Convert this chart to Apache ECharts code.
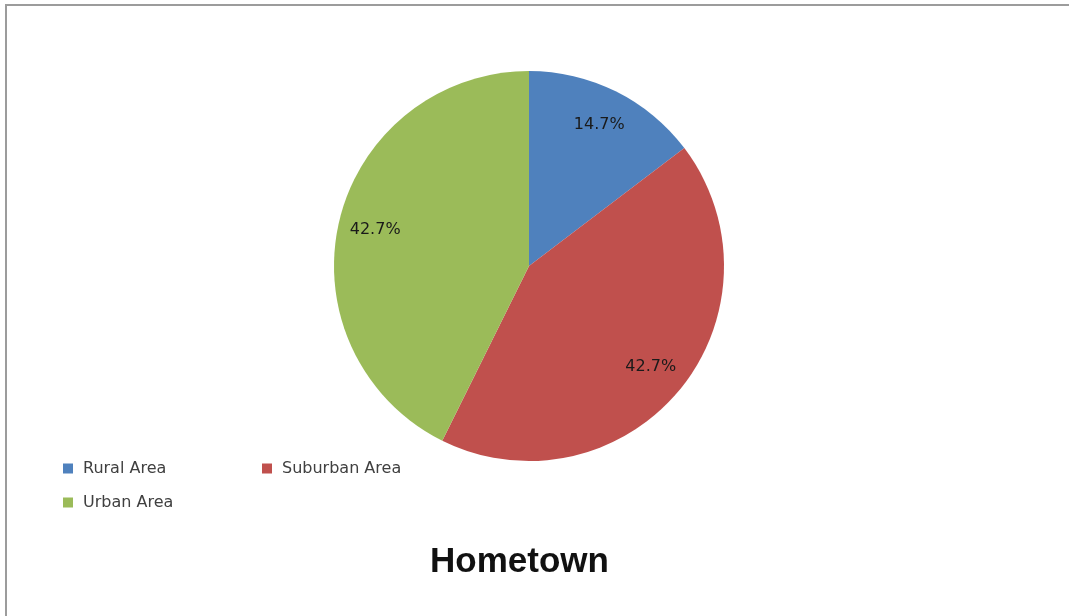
<!DOCTYPE html>
<html>
  <head>
    <meta charset="utf-8" />
    <script src="https://cdn.jsdelivr.net/npm/echarts/dist/echarts.min.js"></script>
  </head>
  <body style="margin: 0;">
    <div id="pie-chart" style="width: 1069px; height: 616px;"></div>
    <script>
        // Data (counts giving 14.7% / 42.7% / 42.7%)
        var categories = ['Rural Area', 'Suburban Area', 'Urban Area'];
        var counts = [11, 32, 32];

        // Excel 2007 palette
        var colorPalette = ['#4F81BD', '#C0504D', '#9BBB59'];

        var pieData = categories.map(function (name, i) {
            return { name: name, value: counts[i], itemStyle: { color: colorPalette[i] } };
        });

        var pieChart = echarts.init(document.getElementById('pie-chart'));

        var option = {
            backgroundColor: '#fff',
            animation: false,
            title: {
                text: 'Hometown',
                left: 425,
                top: 540,
                textStyle: {
                    fontFamily: 'Liberation Sans',
                    fontWeight: 'bold',
                    fontSize: 35,
                    color: '#111'
                }
            },
            legend: {
                data: categories,
                left: 63,
                top: 456,
                width: 440,
                padding: 0,
                orient: 'horizontal',
                itemWidth: 10,
                itemHeight: 10,
                itemGap: 9,
                icon: 'rect',
                textStyle: {
                    fontFamily: 'DejaVu Sans',
                    fontSize: 16,
                    color: '#404040',
                    width: 170,
                    lineHeight: 25,
                    padding: [0, 0, 0, 5]
                }
            },
            graphic: [{
                type: 'rect',
                shape: { x: 6, y: 5, width: 1200, height: 800 },
                style: { fill: 'none', stroke: '#9c9c9c', lineWidth: 2 },
                silent: true
            }],
            series: [{
                type: 'pie',
                center: [529, 266],
                radius: 195,
                startAngle: 90,
                clockwise: true,
                data: pieData,
                label: { show: false },
                labelLine: { show: false },
                itemStyle: { borderWidth: 0 }
            }, {
                // label ring only, puts labels at ~0.8 of radius
                type: 'pie',
                center: [529, 266],
                radius: [115, 195],
                startAngle: 90,
                clockwise: true,
                silent: true,
                legendHoverLink: false,
                data: categories.map(function (name, i) {
                    return { name: name, value: counts[i] };
                }),
                itemStyle: { color: 'rgba(0,0,0,0)', borderWidth: 0 },
                label: {
                    show: true,
                    position: 'inside',
                    formatter: function (p) { return p.percent.toFixed(1) + '%'; },
                    fontFamily: 'DejaVu Sans',
                    fontSize: 16,
                    color: '#1a1a1a'
                },
                labelLine: { show: false }
            }]
        };

        pieChart.setOption(option);
    </script>
  </body>
</html>
